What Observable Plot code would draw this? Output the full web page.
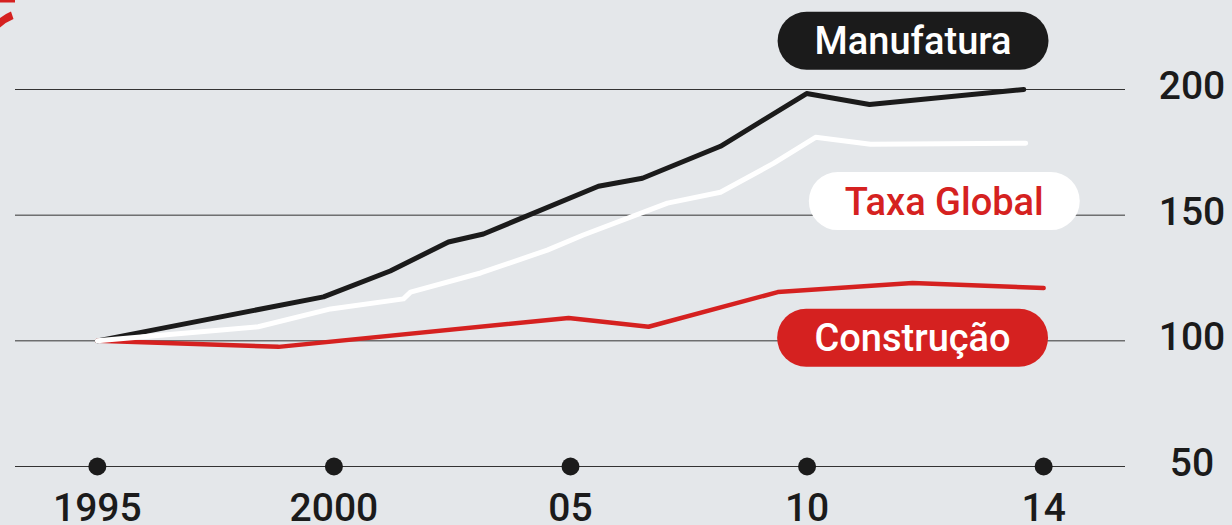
<!DOCTYPE html>
<html>
<head>
<meta charset="utf-8">
<script src="https://cdn.jsdelivr.net/npm/d3@7"></script>
<script src="https://cdn.jsdelivr.net/npm/@observablehq/plot@0.6"></script>
<style>
  html, body { margin: 0; padding: 0; background: #e4e7ea; overflow: hidden; }
  #wrap { position: relative; width: 1232px; height: 525px; }
  #deco { position: absolute; left: 0; top: 0; }
</style>
</head>
<body>
<div id="wrap">
  <svg id="deco" width="20" height="30" viewBox="0 0 20 30">
    <rect x="0" y="0" width="15" height="2.5" fill="#d52120"></rect>
    <path d="M0 18 Q5 14 11 11.5 L13.5 19 Q6 22 0 27.5 Z" fill="#d52120"></path>
  </svg>
</div>
<script>
// ---- data ----
const manufaturaYear = [1995, 1999.78, 2001.19, 2002.42, 2003.16, 2005.59, 2006.52, 2008.17, 2009.99, 2011.32, 2014.58];
const manufaturaVal  = [100, 117.5, 127.8, 139.3, 142.5, 161.5, 164.7, 177.4, 198.4, 194, 200];

const taxaYear = [1995, 1998.40, 1999.93, 2001.47, 2001.62, 2003.10, 2004.51, 2005.27, 2007.05, 2008.17, 2009.29, 2010.18, 2011.34, 2014.62];
const taxaVal  = [100, 105.6, 112.7, 116.7, 119.4, 127, 136.1, 142.1, 154.8, 159.1, 170.6, 181, 178.2, 178.6];

const construcaoYear = [1995, 1998.83, 2004.96, 2006.65, 2009.38, 2012.23, 2015.0];
const construcaoVal  = [100, 97.6, 109.1, 105.6, 119.4, 123, 121];

const xTickValues = [1995, 2000, 2005, 2010, 2015];
const xTickLabels = ["1995", "2000", "05", "10", "14"];
const yTickValues = [200, 150, 100, 50];

const seriesNames = ["Manufatura", "Taxa Global", "Construção"];
const labelYear = [2012.24, 2012.9, 2012.23];
const labelVal  = [219.4, 155.6, 101.2];
const labelFill = ["#1b1b1b", "#ffffff", "#d52120"];
const labelText = ["#ffffff", "#d52120", "#ffffff"];

// ---- build tables ----
const zip = (xs, ys) => xs.map((x, i) => ({x, y: ys[i]}));
const manu = zip(manufaturaYear, manufaturaVal);
const taxa = zip(taxaYear, taxaVal);
const cons = zip(construcaoYear, construcaoVal);
const labels = seriesNames.map((name, i) => ({name, x: labelYear[i], y: labelVal[i], fill: labelFill[i], color: labelText[i]}));
const xTicks = xTickValues.map((v, i) => ({v, label: xTickLabels[i]}));
const pillHalf = 2.25; // half pill length in years

const chart = Plot.plot({
  width: 1232,
  height: 525,
  marginLeft: 15,
  marginRight: 107,
  marginTop: 89,
  marginBottom: 59,
  style: {background: "transparent", fontFamily: "Roboto, sans-serif", overflow: "visible"},
  x: {domain: [1993.27, 2016.73], axis: null},
  y: {domain: [50, 200], axis: null},
  marks: [
    Plot.ruleY(yTickValues, {stroke: "#333", strokeWidth: 1}),
    Plot.dot(xTickValues, {x: d => d, y: 50, r: 9, fill: "#1b1b1b", stroke: "none"}),
    Plot.text(xTicks, {x: "v", y: 50, text: "label", dy: 42, fontSize: 39, fontWeight: 500, fill: "#1b1b1b"}),
    Plot.text(yTickValues, {y: d => d, text: d => String(d), frameAnchor: "right", dx: 66.5, dy: -3, textAnchor: "middle", fontSize: 39, fontWeight: 500, fill: "#1b1b1b"}),
    Plot.line(manu, {x: "x", y: "y", stroke: "#1b1b1b", strokeWidth: 5}),
    Plot.line(cons, {x: "x", y: "y", stroke: "#d52120", strokeWidth: 4.5}),
    Plot.line(taxa, {x: "x", y: "y", stroke: "#ffffff", strokeWidth: 5}),
    Plot.link(labels, {x1: d => d.x - pillHalf, x2: d => d.x + pillHalf, y1: "y", y2: "y", stroke: d => d.fill, strokeWidth: 58, strokeLinecap: "round"}),
    Plot.text(labels, {x: "x", y: "y", text: "name", dy: 1.5, fill: d => d.color, fontSize: 38, fontWeight: 500})
  ]
});
chart.style.position = "absolute";
chart.style.left = "0";
chart.style.top = "0";
document.getElementById("wrap").appendChild(chart);
</script>
</body>
</html>
